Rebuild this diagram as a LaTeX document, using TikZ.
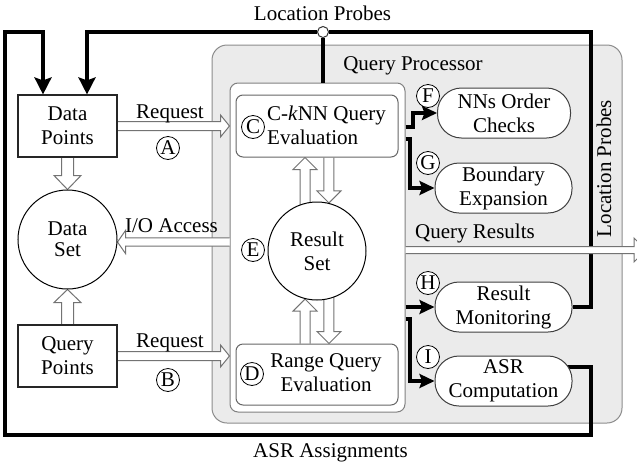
\documentclass[tikz,border=0pt]{standalone}
\usepackage{fontspec}
\setmainfont{Liberation Serif}
\usetikzlibrary{calc,arrows.meta}
\pgfdeclarelayer{bg}
\pgfdeclarelayer{wires}
\pgfsetlayers{bg,wires,main}

% Hollow block arrow from #1 to #2:
% #3 half shaft width, #4 half head width, #5 head length
\newcommand{\blockarrow}[5]{%
  \coordinate (ba-s) at (#1);
  \coordinate (ba-e) at (#2);
  \coordinate (ba-b) at ($(ba-e)!#5!(ba-s)$);
  \fill[white] ($(ba-s)!#3!90:(ba-e)$) -- ($(ba-b)!#3!90:(ba-e)$)
    -- ($(ba-b)!#4!90:(ba-e)$) -- (ba-e) -- ($(ba-b)!#4!-90:(ba-e)$)
    -- ($(ba-b)!#3!-90:(ba-e)$) -- ($(ba-s)!#3!-90:(ba-e)$) -- cycle;
  \draw[hollow] ($(ba-s)!#3!90:(ba-e)$) -- ($(ba-b)!#3!90:(ba-e)$)
    -- ($(ba-b)!#4!90:(ba-e)$) -- (ba-e) -- ($(ba-b)!#4!-90:(ba-e)$)
    -- ($(ba-b)!#3!-90:(ba-e)$) -- ($(ba-s)!#3!-90:(ba-e)$);
}

\tikzset{
  plainbox/.style={draw=black!85, line width=1.1pt, fill=white,
    minimum width=99pt, minimum height=62pt, align=center, inner sep=0pt},
  store/.style={circle, draw, line width=1pt, fill=white,
    minimum size=99pt, align=center, inner sep=0pt},
  procbox/.style={draw=black!45, fill=black!8, line width=1pt,
    rounded corners=15pt, minimum width=410pt, minimum height=378pt},
  panelbox/.style={draw=black!50, fill=white, line width=1pt,
    rounded corners=8pt, minimum width=175pt, minimum height=329pt},
  evalbox/.style={draw=black!60, fill=white, line width=1pt,
    rounded corners=7pt, minimum width=162pt, minimum height=62pt},
  task/.style={draw=black!75, fill=white, line width=1pt,
    rounded corners=24pt, minimum width=137pt, minimum height=50pt,
    align=center, inner sep=0pt},
  tag/.style={circle, draw, line width=0.8pt, fill=white,
    inner sep=0pt, minimum size=23pt},
  txt/.style={inner sep=0pt},
  junction/.style={circle, draw=black!80, line width=1pt, fill=white,
    inner sep=0pt, minimum size=11pt},
  wire/.style={line width=3.5pt, line join=miter},
  bigtip/.style={-{Stealth[length=17pt,width=17pt,inset=3pt]}},
  smalltip/.style={-{Stealth[length=15pt,width=14pt,inset=2.5pt]}},
  hollow/.style={draw=black!55, line width=1pt, line join=miter},
}

\begin{document}
\begin{tikzpicture}[x=1pt, y=-1pt, font=\fontsize{21}{24}\selectfont]
\useasboundingbox (0,0) rectangle (637,464);

% Query processor frame and its inner panel
\begin{pgfonlayer}{bg}
  \node[procbox] (qproc) at (417,234) {};
  \node[panelbox] (panel) at (317.5,247.5) {};
\end{pgfonlayer}

% Data side
\node[plainbox] (dp) at (67.5,126) {Data\\Points};
\node[plainbox] (qp) at (67.5,356) {Query\\Points};
\node[store, font=\fontsize{21}{21}\selectfont] (ds) at (67.5,239.5) {Data\\Set};

% Query evaluation
\node[evalbox] (ck) at (317,126) {};
\node[txt, anchor=west, align=left] (cktxt) at (267,125) {C-\textit{k}NN Query\\Evaluation};
\node[evalbox, minimum height=61pt] (rq) at (317,374.5) {};
\node[txt, align=center] (rqtxt) at (326,372.5) {Range Query\\Evaluation};
\node[store, minimum size=98pt] (rs) at (317,251) {Result\\Set};

% Processing tasks
\node[task, minimum width=133pt] (nn) at (504,113) {NNs Order\\Checks};
\node[task] (be) at (503.5,188) {Boundary\\Expansion};
\node[task] (rm) at (503.5,307) {Result\\Monitoring};
\node[task] (asr) at (503.5,381) {ASR\\Computation};

% Step tags
\node[tag] (tA) at (168,148) {A};
\node[tag] (tB) at (168,380) {B};
\node[tag] (tC) at (253,127) {C};
\node[tag] (tD) at (252,374) {D};
\node[tag] (tE) at (253,250) {E};
\node[tag] (tF) at (428,96) {F};
\node[tag] (tG) at (428,163) {G};
\node[tag] (tH) at (428,283) {H};
\node[tag] (tI) at (428,357) {I};

% Labels
\node[txt, anchor=base] (lreq1) at (170,118) {Request};
\node[txt, anchor=base] (lreq2) at (170,347) {Request};
\node[txt, anchor=base] (lio) at (171.5,232.5) {I/O Access};
\node[txt, anchor=base] (lqr) at (475,238) {Query Results};
\node[txt, anchor=base] (lqp) at (413,70) {Query Processor};
\node[txt, anchor=base] (llp) at (322.5,20) {Location Probes};
\node[txt, anchor=base] (lasr) at (330.5,457) {ASR Assignments};
\node[txt, rotate=90] (llpv) at (604,168.5) {Location Probes};

\node[junction] (jn) at (323,32) {};

\begin{pgfonlayer}{wires}
  % Location probes loop
  \draw[wire] (rm.east) -| (591,32) -- (jn);
  \draw[wire, bigtip] (jn) -| ($(dp.north)+(19.5,0)$);
  \draw[wire] (jn) -- (jn |- panel.north);
  % ASR assignments loop
  \draw[wire, bigtip] ($(asr.east)+(-8,-14)$) -- (591,367) -- (591,435)
    -- (5,435) -- (5,32) -| ($(dp.north)+(-24.5,0)$);
  % Dispatch to processing tasks
  \draw[wire, smalltip] (panel.east |- 0,127) -| (413,113) -- (nn.west);
  \draw[wire, smalltip] (panel.east |- 0,139) -| (410,188) -- (be.west);
  \draw[wire, smalltip] (panel.east |- rm.west) -- (rm.west);
  \draw[wire, smalltip] (panel.east |- 0,319) -| (410,381) -- (asr.west);

  % Data flows
  \blockarrow{dp.south}{ds.north}{6pt}{13.5pt}{14pt}
  \blockarrow{qp.north}{ds.south}{6pt}{13.5pt}{13pt}
  \blockarrow{dp.east}{dp.east -| panel.west}{4.5pt}{11pt}{9pt}
  \blockarrow{qp.east}{qp.east -| panel.west}{4.5pt}{11pt}{9pt}
  \blockarrow{panel.west |- 0,242}{ds.east |- 0,242}{4.2pt}{11.5pt}{8pt}
  \blockarrow{panel.east |- 0,250}{646,250}{3.5pt}{12pt}{12pt}
  \blockarrow{$(rs.104)+(0,4)$}{ck.south -| rs.104}{5pt}{12pt}{12pt}
  \blockarrow{ck.south -| rs.76}{rs.76}{5pt}{12pt}{12pt}
  \blockarrow{rq.north -| rs.256}{rs.256}{5pt}{12pt}{12pt}
  \blockarrow{$(rs.284)+(0,-4)$}{rq.north -| rs.284}{5pt}{12pt}{12pt}
\end{pgfonlayer}
\end{tikzpicture}
\end{document}
